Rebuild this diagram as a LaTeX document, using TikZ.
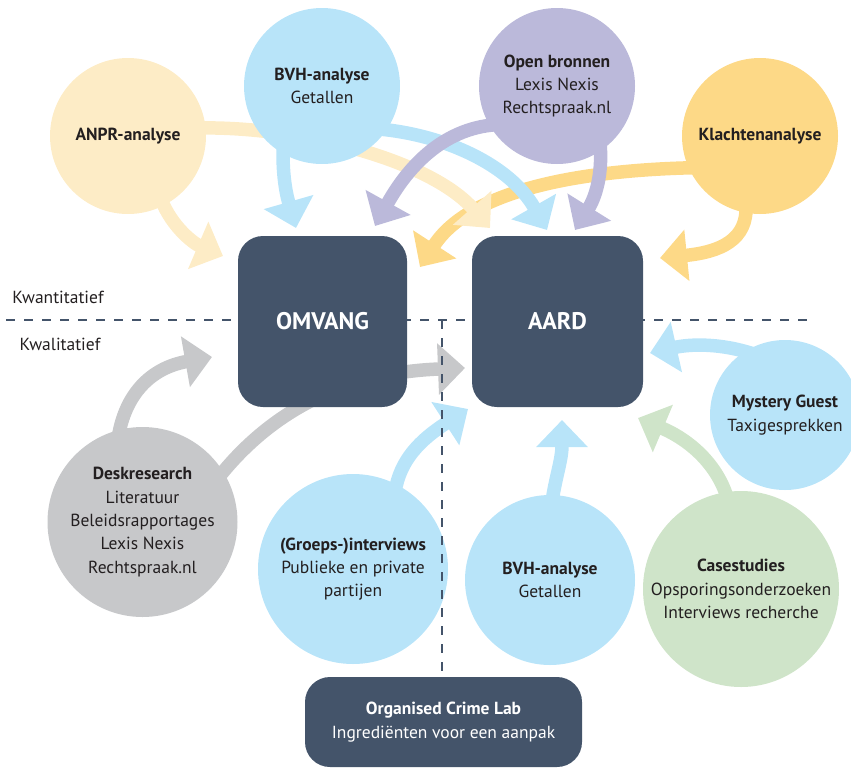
\documentclass[tikz,border=0pt]{standalone}
\usepackage{fontspec}
\setmainfont{PT Sans}
\usetikzlibrary{arrows.meta}
\definecolor{cream}{RGB}{253,236,198}
\definecolor{lblue}{RGB}{184,228,249}
\definecolor{lav}{RGB}{187,185,218}
\definecolor{gold}{RGB}{253,217,135}
\definecolor{lgray}{RGB}{199,200,202}
\definecolor{lgreen}{RGB}{207,228,201}
\definecolor{slate}{RGB}{68,84,106}
\definecolor{txt}{RGB}{35,31,32}
\pgfdeclarelayer{arrowlayer}
\pgfdeclarelayer{circlelayer}
\pgfdeclarelayer{dashlayer}
\pgfsetlayers{arrowlayer,circlelayer,dashlayer,main}
\begin{document}
\begin{tikzpicture}[x=1pt,y=-1pt,
  circ/.style={circle, inner sep=0pt, align=center, text=txt, font=\fontsize{17.5}{23.4}\selectfont},
  box/.style={rectangle, rounded corners=25pt, fill=slate, inner sep=0pt, text=white, align=center},
  band/.style={line width=13.5pt, -{Triangle[length=27pt,width=50pt]}, shorten <=-8pt},
  dashline/.style={draw=slate, line width=1.8pt, dash pattern=on 9pt off 9pt},
  side/.style={text=txt, font=\fontsize{17.5}{20}\selectfont, inner sep=0pt}]
\useasboundingbox (0,0) rectangle (851,769);

% circles
\begin{pgfonlayer}{circlelayer}
\node[circ, fill=cream, minimum size=156pt] (anpr) at (128,136) {\bfseries ANPR-analyse};
\node[circ, fill=lblue, minimum size=156pt] (bvh1) at (322,86) {\bfseries BVH-analyse\\Getallen};
\node[circ, fill=lav, minimum size=156pt] (opb) at (557,86) {\bfseries Open bronnen\\Lexis Nexis\\Rechtspraak.nl};
\node[circ, fill=gold, minimum size=156pt] (kla) at (760,136) {\bfseries Klachtenanalyse};
\node[circ, fill=lgray, minimum size=190pt] (desk) at (142.5,522) {\bfseries Deskresearch\\Literatuur\\Beleidsrapportages\\Lexis Nexis\\Rechtspraak.nl};
\node[circ, fill=lblue, minimum size=190pt] (intv) at (353,569) {\bfseries (Groeps-)interviews\\Publieke en private\\partijen};
\node[circ, fill=lblue, minimum size=170pt] (bvh2) at (550,580) {\bfseries BVH-analyse\\Getallen};
\node[circ, fill=lgreen, minimum size=196pt] (cs) at (741,589) {\bfseries Casestudies\\Opsporingsonderzoeken\\Interviews recherche};
\node[circ, fill=lblue, minimum size=150pt] (mg) at (785,415) {\bfseries Mystery Guest\\Taxigesprekken};
\end{pgfonlayer}

% boxes
\node[box, minimum width=169pt, minimum height=171pt, font=\fontsize{24}{28}\selectfont\bfseries] (omv) at (322.5,321.5) {OMVANG};
\node[box, minimum width=171pt, minimum height=171pt, font=\fontsize{24}{28}\selectfont\bfseries] (aard) at (557.5,321.5) {AARD};
\node[box, minimum width=277pt, minimum height=90pt, font=\fontsize{17.5}{23.4}\selectfont] (ocl) at (443.5,722) {\bfseries Organised Crime Lab\\Ingrediënten voor een aanpak};

% side labels
\node[side] (kwan) at (58,297) {Kwantitatief};
\node[side] (kwal) at (60,344) {Kwalitatief};

% arrow tips
\coordinate (tA) at (223,256);
\coordinate (tB) at (490,228);
\coordinate (tC) at (296,228);
\coordinate (tD) at (547,230);
\coordinate (tE) at (375,226);
\coordinate (tF) at (575,230);
\coordinate (tG) at (420,267);
\coordinate (tH) at (660,258);
\coordinate (tI) at (212,357);
\coordinate (tJ) at (465,368);
\coordinate (tK) at (468,409);
\coordinate (tL) at (562,420);
\coordinate (tM) at (638,418);
\coordinate (tN) at (650,353);

\begin{pgfonlayer}{arrowlayer}
\draw[band, gold] (kla.204) .. controls (580,170) and (470,190) .. (tG);
\draw[band, gold] (kla.260) .. controls (748,240) and (720,252) .. (tH);
\draw[band, cream] (anpr.297) .. controls (172,228) and (195,244) .. (tA);
\draw[band, cream] (anpr.6) .. controls (300,126) and (430,160) .. (tB);
\draw[band, lblue] (bvh1.240) .. controls (282,180) and (288,200) .. (tC);
\draw[band, lblue] (bvh1.326) .. controls (445,135) and (510,165) .. (tD);
\draw[band, lav] (opb.210) .. controls (440,128) and (405,172) .. (tE);
\draw[band, lav] (opb.304) .. controls (603,175) and (595,198) .. (tF);
\draw[band, lgray] (desk.104) .. controls (125,395) and (150,368) .. (tI);
\draw[band, lgray] (desk.32) .. controls (280,400) and (360,372) .. (tJ);
\draw[band, lblue] (intv.63) .. controls (400,460) and (420,440) .. (tK);
\draw[band, lblue] (bvh2.88) .. controls (556,475) and (562,460) .. (tL);
\draw[band, lgreen] (cs.99) .. controls (718,465) and (690,440) .. (tM);
\draw[band, lblue] (mg.122) .. controls (720,343) and (690,344) .. (tN);
\end{pgfonlayer}

% dashed separators
\coordinate (hl) at (6,320);
\coordinate (hr) at (808,320);
\coordinate (vt) at (442,320);
\begin{pgfonlayer}{dashlayer}
\draw[dashline] (hl) -- (hr);
\draw[dashline] (vt) -- (vt |- ocl.north);
\end{pgfonlayer}
\end{tikzpicture}
\end{document}
